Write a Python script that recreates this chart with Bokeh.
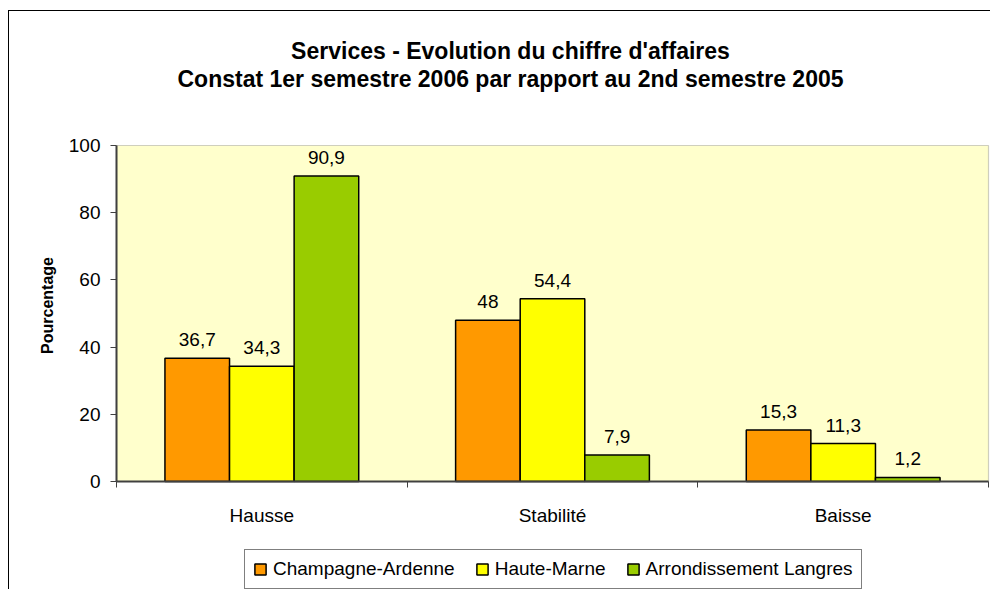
import math
from bokeh.plotting import figure
from bokeh.models import (ColumnDataSource, Range1d, FixedTicker, Label, LabelSet,
                          Legend, LegendItem, BoxAnnotation)
from bokeh.core.properties import value
from bokeh.transform import dodge
from bokeh.embed import file_html
from bokeh.resources import INLINE

# ---- data ----
categories = ["Hausse", "Stabilité", "Baisse"]
series_names = ["Champagne-Ardenne", "Haute-Marne", "Arrondissement Langres"]
champagne_ardenne = [36.7, 48.0, 15.3]
haute_marne = [34.3, 54.4, 11.3]
arrondissement_langres = [90.9, 7.9, 1.2]
y_ticks = [0, 20, 40, 60, 80, 100]
title_lines = ["Services - Evolution du chiffre d'affaires",
               "Constat 1er semestre 2006 par rapport au 2nd semestre 2005"]
y_label = "Pourcentage"

# ---- style / layout ----
colors = ["#FF9900", "#FFFF00", "#99CC00"]
FONT = "Liberation Sans"
AX = "#404040"
W, H = 982, 579            # canvas size (placed at 9, 11 in the page)
PX0, PX1 = 107, 979        # plot-area left/right in canvas pixels
PY0, PY1 = 470, 134        # plot-area bottom/top in canvas pixels

series = [champagne_ardenne, haute_marne, arrondissement_langres]
ncat = len(categories)
ymax = y_ticks[-1]
xc = [i + 0.5 for i in range(ncat)]
bounds = [float(i) for i in range(ncat + 1)]

# data ranges so that the plot area lands where the reference has it
sx = (PX1 - PX0) / ncat
sy = (PY0 - PY1) / ymax
x_range = Range1d(-PX0 / sx, ncat + (W - PX1) / sx)
y_range = Range1d(-(H - PY0) / sy, ymax + PY1 / sy)


def fmt(v):
    return f"{v:g}".replace(".", ",")


data = dict(x=xc, cat=categories)
for j, s in enumerate(series):
    data[f"s{j}"] = s
    data[f"t{j}"] = [fmt(v) for v in s]
src = ColumnDataSource(data)

p = figure(width=W, height=H, x_range=x_range, y_range=y_range,
           output_backend="svg", toolbar_location=None, title=None,
           min_border=0, background_fill_color="white",
           border_fill_color="white", outline_line_color=None)
p.styles = {"margin-left": "8px", "margin-top": "10px",
            "border-left": "1px solid black", "border-top": "1px solid black"}

p.xgrid.visible = False
p.ygrid.visible = False

# plot area
p.add_layout(BoxAnnotation(left=0, right=ncat, bottom=0, top=ymax,
                           fill_color="#FFFFCC", fill_alpha=1,
                           line_color="#606060", line_width=1.2,
                           level="underlay"))

# x axis: labels at category centres, ticks at category boundaries
xa = p.xaxis[0]
xa.fixed_location = 0
xa.bounds = (0, ncat)
xa.ticker = FixedTicker(ticks=xc, minor_ticks=bounds)
xa.major_label_overrides = {x: c for x, c in zip(xc, categories)}
xa.major_tick_out = 0
xa.major_tick_in = 0
xa.minor_tick_out = 6
xa.minor_tick_in = 0
xa.minor_tick_line_color = AX
xa.axis_line_color = AX
xa.axis_line_width = 2
xa.major_label_standoff = 17
xa.major_label_text_font = FONT
xa.major_label_text_font_size = "19px"
xa.major_label_text_color = "black"

ya = p.yaxis[0]
ya.fixed_location = 0
ya.bounds = (0, ymax)
ya.ticker = FixedTicker(ticks=y_ticks)
ya.major_tick_out = 6
ya.major_tick_in = 0
ya.major_tick_line_color = AX
ya.axis_line_color = AX
ya.axis_line_width = 2
ya.major_label_standoff = 10
ya.major_label_text_font = FONT
ya.major_label_text_font_size = "19px"
ya.major_label_text_color = "black"

bw = 2 / 9
offsets = [-bw, 0.0, bw]
items = []
for j, name in enumerate(series_names):
    r = p.vbar(x=dodge("x", offsets[j]), top=f"s{j}", width=bw, source=src,
               fill_color=colors[j], line_color="black", line_width=1.5)
    items.append(LegendItem(label=name, renderers=[r]))
    p.add_layout(LabelSet(x=dodge("x", offsets[j]), y=f"s{j}", text=f"t{j}",
                          source=src, y_offset=12, text_align="center",
                          text_baseline="alphabetic", text_font=value(FONT),
                          text_font_size=value("19px"), text_color="black"))

legend = Legend(items=items, orientation="horizontal", location=(235, 1),
                border_line_color="black", border_line_width=1,
                background_fill_color="white", background_fill_alpha=1,
                label_text_font=FONT, label_text_font_size="19px",
                label_text_color="black",
                glyph_width=14, glyph_height=14, label_standoff=6,
                spacing=20, padding=8, margin=0)
p.add_layout(legend, "center")

# title lines (screen units from the canvas' bottom-left)
p.add_layout(Label(x=501, y=H - 39, x_units="screen", y_units="screen",
                   text=title_lines[0], text_align="center",
                   text_baseline="alphabetic", text_font=FONT,
                   text_font_size="23px", text_font_style="bold",
                   text_color="black"))
p.add_layout(Label(x=501, y=H - 67, x_units="screen", y_units="screen",
                   text=title_lines[1], text_align="center",
                   text_baseline="alphabetic", text_font=FONT,
                   text_font_size="23px", text_font_style="bold",
                   text_color="black"))
# y axis title
p.add_layout(Label(x=38, y=H - 294, x_units="screen", y_units="screen",
                   text=y_label, angle=math.pi / 2, text_align="center",
                   text_baseline="middle", text_font=FONT,
                   text_font_size="16px", text_font_style="bold",
                   text_color="black"))

open("out.html", "w").write(file_html(p, INLINE))
